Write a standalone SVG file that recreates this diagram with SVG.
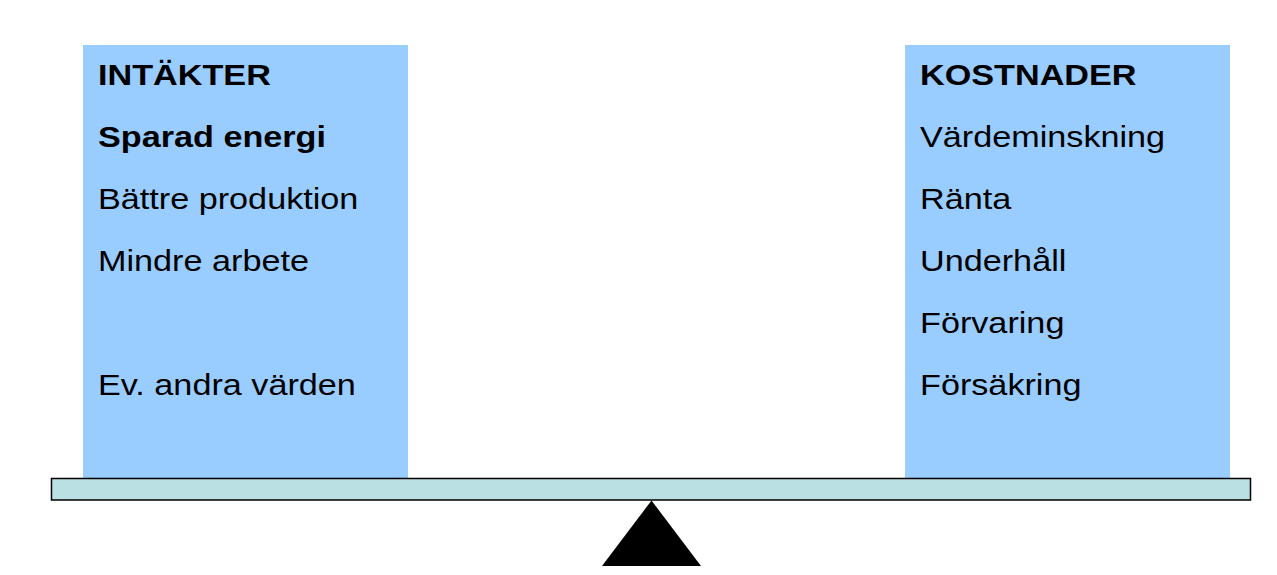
<svg xmlns="http://www.w3.org/2000/svg" width="1277" height="575" viewBox="0 0 1277 575">
<style>
.box{fill:#99CCFF;stroke:none}
.t{font-family:"Liberation Sans",Arial,sans-serif;font-size:30px;fill:#000}
.b{font-weight:bold}
.beam{fill:#BBE0E3;stroke:#000;stroke-width:1.5}
</style>
<rect width="1277" height="575" fill="#fff"/>
<g id="intakter">
<rect class="box" x="83" y="45" width="325" height="433"/>
<g transform="translate(98,0) scale(1.14,1)">
<text class="t b" x="0" y="85">INTÄKTER</text>
<text class="t b" x="0" y="147">Sparad energi</text>
<text class="t" x="0" y="209">Bättre produktion</text>
<text class="t" x="0" y="271">Mindre arbete</text>
<text class="t" x="0" y="395">Ev. andra värden</text>
</g>
</g>
<g id="kostnader">
<rect class="box" x="905" y="45" width="325" height="433"/>
<g transform="translate(920,0) scale(1.14,1)">
<text class="t b" x="0" y="85">KOSTNADER</text>
<text class="t" x="0" y="147">Värdeminskning</text>
<text class="t" x="0" y="209">Ränta</text>
<text class="t" x="0" y="271">Underhåll</text>
<text class="t" x="0" y="333">Förvaring</text>
<text class="t" x="0" y="395">Försäkring</text>
</g>
</g>
<g id="beam">
<rect class="beam" x="51.5" y="478.5" width="1199" height="21.5"/>
</g>
<g id="fulcrum">
<polygon points="651.5,500.5 701,566 602,566" fill="#000"/>
</g>
</svg>
